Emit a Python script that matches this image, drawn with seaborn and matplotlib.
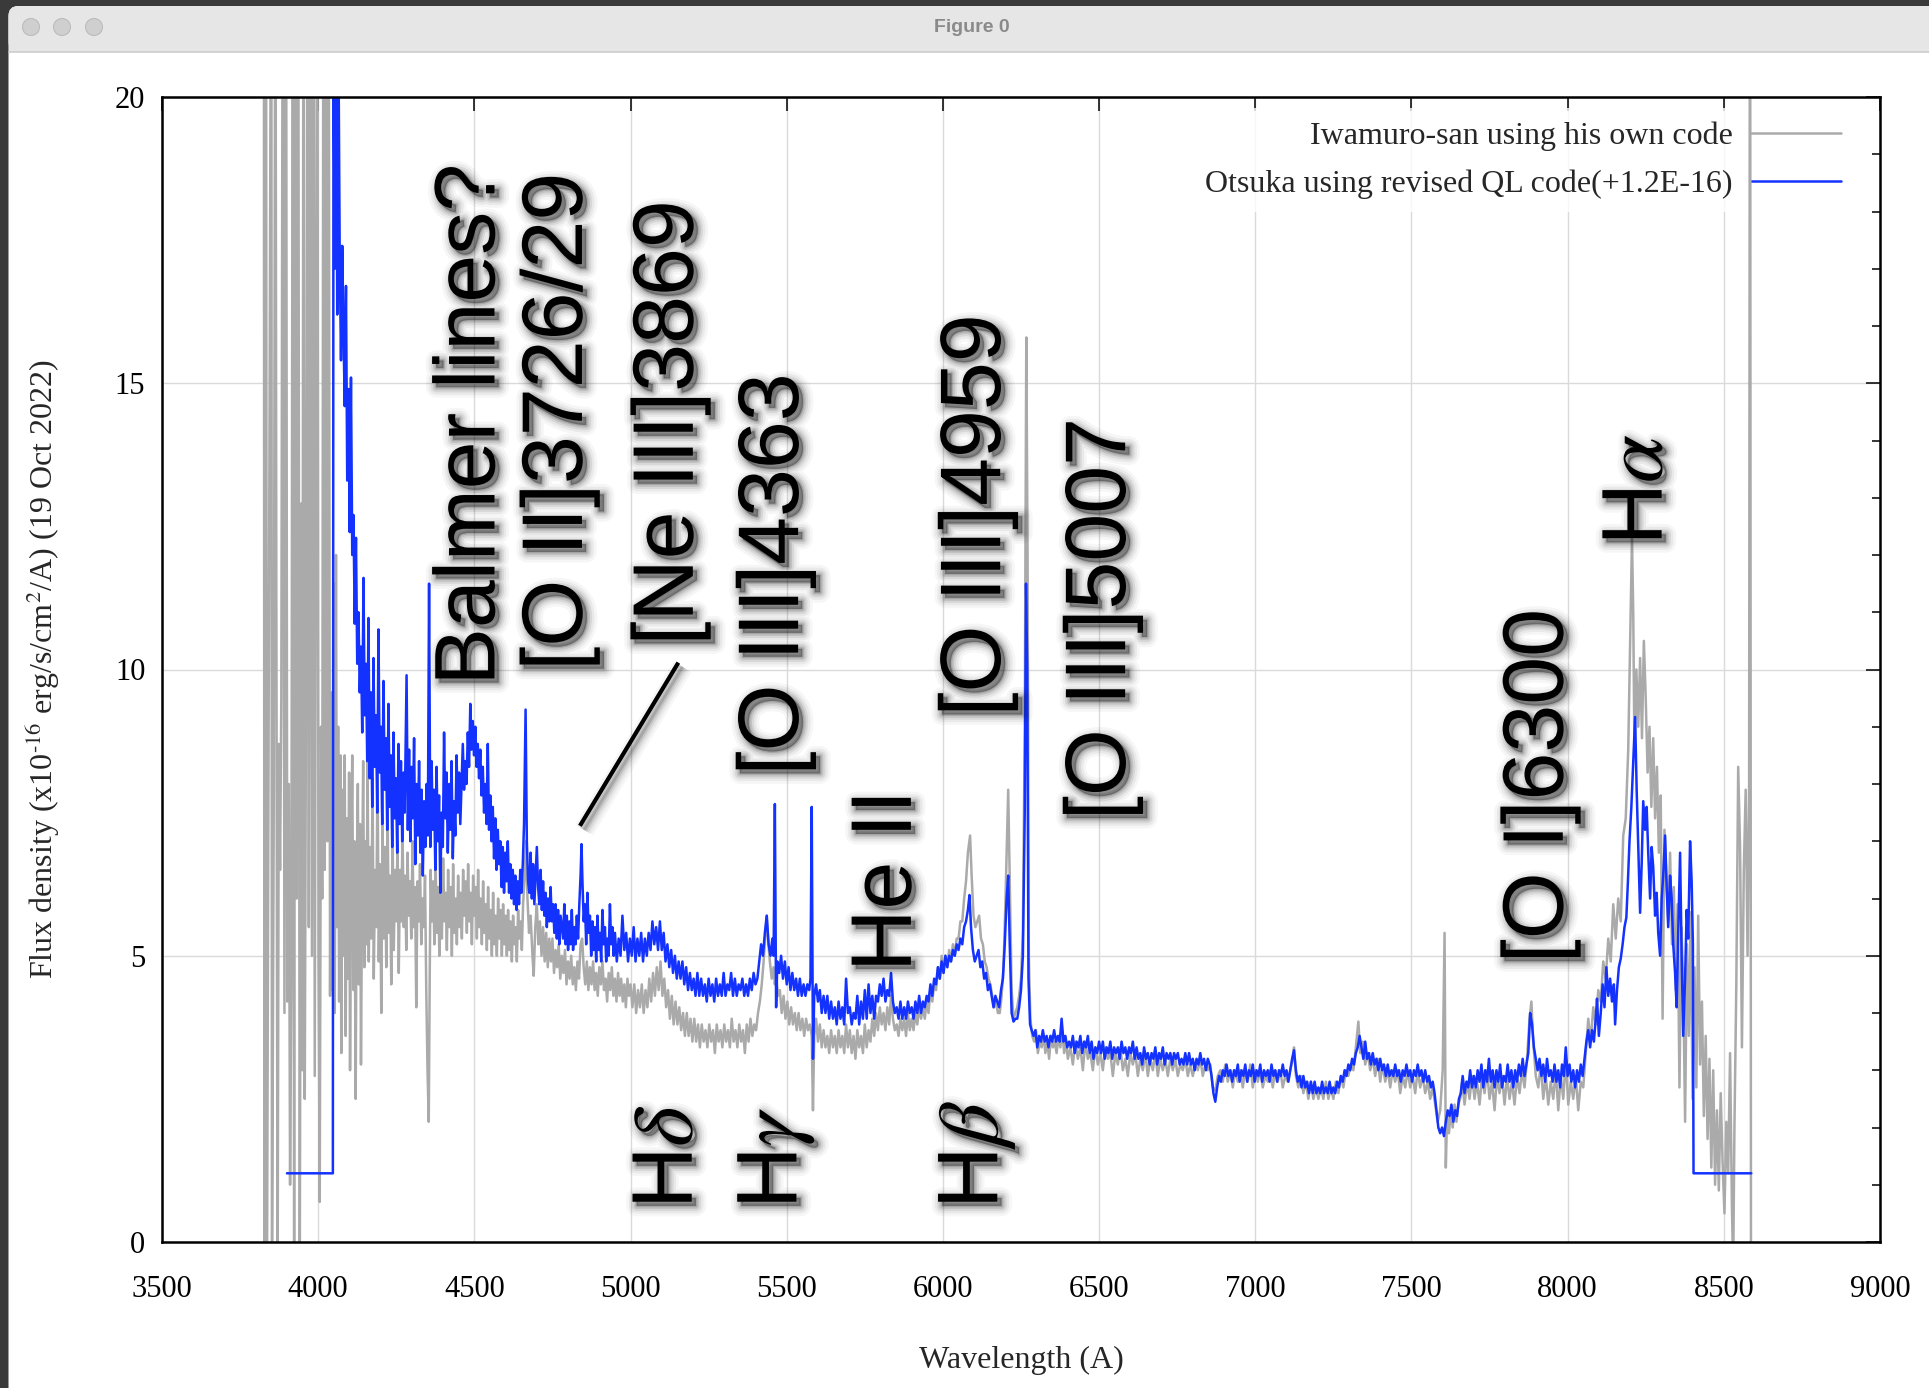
import matplotlib
matplotlib.use("Agg")
import matplotlib.pyplot as plt
import matplotlib.patheffects as pe
from matplotlib.patches import Rectangle, Circle, FancyBboxPatch
from matplotlib.ticker import MultipleLocator
import pandas as pd
import seaborn as sns

# ---------------------------------------------------------------------------
# Spectra: (wavelength [A], flux density [1e-16 erg/s/cm2/A])
# ---------------------------------------------------------------------------
iwamuro_spectrum = [
    (3826, 25), (3828, -1), (3833, 25), (3836, -1), (3850, 25), (3852, -1), (3858, 8.0), (3863, 25),
    (3866, 11.5), (3870, -1), (3874, 8.7), (3878, 6.5), (3882, 9.5), (3887, 25), (3892, 4.0), (3897, 25),
    (3901, 4.2), (3906, 8.0), (3910, 1.0), (3914, 4.5), (3919, 25), (3923, -1), (3927, 25), (3931, 6.0),
    (3936, 25), (3941, -1), (3946, 12.9), (3949, 3.0), (3953, 25), (3957, 2.5), (3962, 11.3), (3966, 25),
    (3970, 5.5), (3975, 25), (3980, 5.0), (3985, 25), (3989, 2.9), (3993, 14.0), (3997, 25), (4001, 5.0),
    (4005, 0.7), (4009, 9.0), (4013, 6.0), (4017, 25), (4021, 6.5), (4026, 25), (4030, 7.0), (4034, 22),
    (4038, 4.3), (4042, 9.6), (4046, 4.4), (4050, 11.5), (4053, 4.0), (4057, 12.0), (4060, 5.5), (4064, 9.0),
    (4067, 4.2), (4071, 8.5), (4074, 3.3), (4078, 7.9), (4081, 5.0), (4085, 8.5), (4088, 3.6), (4092, 7.4),
    (4095, 4.6), (4099, 8.2), (4102, 3.0), (4106, 6.8), (4109, 8.5), (4113, 4.4), (4116, 7.0), (4120, 2.5),
    (4123, 6.2), (4127, 8.0), (4130, 4.5), (4134, 7.3), (4137, 3.1), (4141, 6.5), (4144, 8.4), (4148, 4.8),
    (4151, 7.0), (4155, 5.2), (4158, 8.5), (4162, 4.9), (4166, 6.9), (4170, 5.3), (4174, 8.1), (4178, 4.6),
    (4182, 6.5), (4186, 5.5), (4190, 8.3), (4194, 4.9), (4198, 6.6), (4202, 4.0), (4206, 7.4), (4210, 5.3),
    (4214, 6.9), (4218, 4.8), (4222, 7.6), (4226, 5.4), (4230, 6.4), (4234, 4.5), (4238, 7.2), (4242, 5.1),
    (4246, 6.5), (4250, 5.6), (4254, 7.0), (4258, 4.7), (4262, 6.5), (4266, 5.6), (4270, 7.2), (4274, 5.5),
    (4278, 6.4), (4282, 5.1), (4286, 6.8), (4290, 5.7), (4294, 6.3), (4298, 5.3), (4302, 7.0), (4306, 5.5),
    (4310, 6.2), (4314, 4.1), (4318, 6.3), (4322, 5.6), (4326, 6.6), (4330, 5.2), (4334, 6.0), (4338, 5.5),
    (4342, 6.4), (4346, 4.4), (4350, 3.0), (4354, 2.1), (4357, 4.6), (4360, 6.5), (4364, 5.6), (4368, 6.3),
    (4372, 5.2), (4376, 6.6), (4380, 5.4), (4384, 6.2), (4388, 5.0), (4392, 6.4), (4396, 5.3), (4400, 6.7),
    (4404, 5.6), (4408, 6.1), (4412, 5.1), (4416, 6.5), (4420, 5.5), (4424, 6.2), (4428, 5.0), (4432, 6.6),
    (4436, 5.4), (4440, 6.0), (4444, 5.2), (4448, 6.4), (4452, 5.5), (4456, 6.1), (4460, 5.3), (4464, 6.5),
    (4468, 5.7), (4472, 6.3), (4476, 5.4), (4480, 6.6), (4484, 5.6), (4488, 6.1), (4492, 5.2), (4496, 6.4),
    (4500, 5.7), (4504, 6.2), (4508, 5.3), (4512, 6.5), (4516, 5.5), (4520, 6.0), (4524, 5.2), (4528, 6.3),
    (4532, 5.4), (4536, 5.9), (4540, 5.1), (4544, 6.2), (4548, 5.3), (4552, 5.8), (4556, 5.0), (4560, 6.1),
    (4564, 5.2), (4568, 5.7), (4572, 5.0), (4576, 6.0), (4580, 5.3), (4584, 5.8), (4588, 5.0), (4592, 5.9),
    (4596, 5.2), (4600, 5.7), (4604, 5.0), (4608, 5.8), (4612, 5.1), (4616, 5.6), (4620, 4.9), (4624, 5.7),
    (4628, 5.2), (4632, 5.5), (4636, 4.9), (4640, 5.8), (4644, 5.3), (4648, 5.6), (4652, 5.1), (4656, 5.9),
    (4660, 6.3), (4665, 7.0), (4670, 6.0), (4675, 5.4), (4680, 5.7), (4686, 5.0), (4690, 4.65), (4695, 5.5),
    (4700, 5.9), (4705, 5.2), (4710, 5.6), (4715, 5.0), (4720, 5.5), (4725, 4.9), (4730, 5.4), (4735, 4.8),
    (4740, 5.3), (4745, 4.9), (4750, 5.3), (4755, 4.7), (4760, 5.1), (4765, 4.8), (4770, 5.2), (4775, 4.6),
    (4780, 5.0), (4785, 4.7), (4790, 5.1), (4795, 4.5), (4800, 4.9), (4805, 4.6), (4810, 5.0), (4815, 4.5),
    (4820, 4.8), (4825, 4.4), (4830, 4.9), (4835, 4.6), (4840, 5.2), (4845, 5.3), (4850, 4.8), (4855, 4.5),
    (4860, 4.9), (4865, 4.4), (4870, 4.8), (4875, 4.5), (4880, 4.9), (4885, 4.4), (4890, 4.7), (4895, 4.3),
    (4900, 4.8), (4905, 4.5), (4910, 4.9), (4915, 4.4), (4920, 4.6), (4925, 4.2), (4930, 4.7), (4935, 4.4),
    (4940, 4.8), (4945, 4.3), (4950, 4.6), (4955, 4.2), (4960, 4.7), (4965, 4.3), (4970, 4.6), (4975, 4.2),
    (4980, 4.5), (4985, 4.1), (4990, 4.6), (4995, 4.3), (5000, 4.5), (5006, 4.1), (5012, 4.5), (5018, 4.0),
    (5024, 4.4), (5030, 4.1), (5036, 4.5), (5042, 4.0), (5048, 4.4), (5054, 4.1), (5060, 4.6), (5066, 4.2),
    (5072, 4.7), (5078, 4.3), (5084, 4.8), (5090, 4.4), (5096, 4.9), (5102, 4.3), (5108, 4.6), (5114, 4.1),
    (5120, 4.4), (5126, 3.9), (5132, 4.3), (5138, 3.8), (5144, 4.2), (5150, 3.8), (5156, 4.1), (5162, 3.7),
    (5168, 4.0), (5174, 3.6), (5180, 4.0), (5186, 3.6), (5192, 3.9), (5198, 3.5), (5204, 3.9), (5210, 3.5),
    (5216, 3.8), (5222, 3.4), (5228, 3.8), (5234, 3.5), (5240, 3.7), (5246, 3.4), (5252, 3.8), (5258, 3.5),
    (5264, 3.7), (5270, 3.3), (5276, 3.8), (5282, 3.5), (5288, 3.7), (5294, 3.4), (5300, 3.8), (5306, 3.5),
    (5312, 3.7), (5318, 3.4), (5324, 3.9), (5330, 3.5), (5336, 3.7), (5342, 3.4), (5348, 3.8), (5354, 3.5),
    (5360, 3.7), (5366, 3.3), (5372, 3.8), (5378, 3.5), (5384, 3.9), (5390, 3.6), (5396, 3.8), (5402, 3.7),
    (5408, 4.0), (5414, 4.2), (5420, 4.5), (5426, 4.9), (5432, 5.4), (5436, 5.7), (5440, 5.3), (5446, 4.9),
    (5452, 4.6), (5458, 4.8), (5462, 4.5), (5466, 4.7), (5472, 4.3), (5478, 4.4), (5484, 4.0), (5490, 4.3),
    (5496, 3.9), (5502, 4.2), (5508, 3.8), (5514, 4.1), (5520, 3.8), (5526, 4.0), (5532, 3.7), (5538, 4.0),
    (5544, 3.7), (5550, 3.9), (5556, 3.6), (5562, 3.9), (5568, 3.7), (5574, 3.8), (5580, 3.6), (5584, 2.3),
    (5588, 3.6), (5594, 3.9), (5600, 3.5), (5606, 3.8), (5612, 3.4), (5618, 3.7), (5624, 3.4), (5630, 3.6),
    (5636, 3.3), (5642, 3.7), (5648, 3.4), (5654, 3.6), (5660, 3.3), (5666, 3.7), (5672, 3.4), (5678, 3.6),
    (5684, 3.3), (5690, 3.8), (5696, 3.4), (5702, 3.7), (5708, 3.3), (5714, 3.6), (5720, 3.2), (5726, 3.7),
    (5732, 3.4), (5738, 3.6), (5744, 3.3), (5750, 3.8), (5756, 3.4), (5762, 3.7), (5768, 3.5), (5774, 3.9),
    (5780, 3.6), (5786, 4.0), (5792, 3.7), (5798, 4.1), (5804, 3.8), (5810, 4.0), (5816, 3.7), (5822, 4.1),
    (5828, 3.8), (5834, 4.3), (5840, 3.9), (5846, 3.7), (5852, 3.8), (5858, 3.6), (5864, 3.9), (5870, 3.7),
    (5876, 3.9), (5882, 3.6), (5888, 4.0), (5894, 3.7), (5900, 3.9), (5906, 3.7), (5912, 4.0), (5918, 3.8),
    (5924, 4.1), (5930, 3.9), (5936, 4.1), (5942, 3.9), (5948, 4.2), (5954, 4.0), (5960, 4.4), (5966, 4.2),
    (5972, 4.5), (5978, 4.4), (5984, 4.8), (5990, 4.6), (5996, 5.0), (6002, 4.7), (6008, 5.0), (6014, 4.8),
    (6020, 5.1), (6026, 4.9), (6032, 5.2), (6038, 5.0), (6044, 5.3), (6050, 5.3), (6056, 5.6), (6062, 5.6),
    (6068, 6.0), (6074, 6.3), (6080, 6.8), (6087, 7.1), (6092, 6.4), (6098, 5.7), (6104, 5.5), (6110, 5.6),
    (6116, 5.7), (6122, 5.3), (6128, 5.2), (6134, 4.9), (6140, 4.8), (6146, 4.6), (6152, 4.5), (6158, 4.3),
    (6164, 4.1), (6170, 4.2), (6176, 4.0), (6182, 4.0), (6188, 4.3), (6194, 4.8), (6200, 5.9), (6205, 7.0),
    (6209, 7.9), (6214, 6.3), (6220, 4.4), (6226, 3.9), (6232, 4.0), (6238, 4.1), (6244, 4.3), (6250, 4.6),
    (6256, 5.4), (6262, 9.0), (6267, 15.8), (6271, 12.0), (6275, 5.0), (6280, 3.9), (6286, 3.6), (6292, 3.5),
    (6298, 3.7), (6304, 3.3), (6310, 3.5), (6316, 3.4), (6322, 3.6), (6328, 3.3), (6334, 3.5), (6340, 3.2),
    (6346, 3.6), (6352, 3.4), (6358, 3.5), (6364, 3.3), (6370, 3.6), (6376, 3.4), (6382, 3.7), (6388, 3.3),
    (6394, 3.5), (6400, 3.2), (6408, 3.4), (6416, 3.1), (6424, 3.5), (6432, 3.2), (6440, 3.4), (6448, 3.0),
    (6456, 3.5), (6464, 3.2), (6472, 3.3), (6480, 3.0), (6488, 3.4), (6496, 3.1), (6504, 3.3), (6512, 3.0),
    (6520, 3.4), (6528, 3.2), (6536, 3.3), (6544, 2.9), (6552, 3.3), (6560, 3.1), (6568, 3.4), (6576, 3.0),
    (6584, 3.2), (6592, 2.9), (6600, 3.3), (6608, 3.1), (6616, 3.3), (6624, 2.9), (6632, 3.2), (6640, 3.0),
    (6648, 3.3), (6656, 2.9), (6664, 3.2), (6672, 3.0), (6680, 3.3), (6688, 2.9), (6696, 3.2), (6704, 3.0),
    (6712, 3.2), (6720, 2.9), (6728, 3.2), (6736, 3.0), (6744, 3.2), (6752, 2.9), (6760, 3.1), (6768, 3.0),
    (6776, 3.2), (6784, 2.9), (6792, 3.1), (6800, 2.9), (6808, 3.1), (6816, 3.0), (6824, 3.2), (6832, 2.9),
    (6840, 3.1), (6848, 3.0), (6856, 3.1), (6864, 2.7), (6872, 2.65), (6880, 2.9), (6888, 3.0), (6896, 2.8),
    (6904, 3.1), (6912, 2.8), (6920, 3.0), (6928, 2.7), (6936, 3.0), (6944, 2.8), (6952, 3.0), (6960, 2.7),
    (6968, 3.0), (6976, 2.8), (6984, 3.1), (6992, 2.7), (7000, 3.0), (7008, 2.8), (7016, 3.0), (7024, 2.7),
    (7032, 2.9), (7040, 2.8), (7048, 3.0), (7056, 2.7), (7064, 3.0), (7072, 2.8), (7080, 3.0), (7088, 2.7),
    (7096, 2.9), (7104, 2.8), (7112, 3.0), (7120, 3.2), (7124, 3.4), (7130, 2.9), (7138, 2.7), (7146, 2.9),
    (7154, 2.6), (7162, 2.8), (7170, 2.5), (7178, 2.8), (7186, 2.5), (7194, 2.7), (7202, 2.5), (7210, 2.7),
    (7218, 2.5), (7226, 2.8), (7234, 2.5), (7242, 2.7), (7250, 2.5), (7258, 2.8), (7266, 2.6), (7274, 2.9),
    (7282, 2.7), (7290, 3.0), (7298, 2.9), (7306, 3.1), (7314, 3.0), (7322, 3.4), (7330, 3.85), (7336, 3.3),
    (7344, 3.5), (7352, 3.1), (7360, 3.3), (7368, 3.0), (7376, 3.2), (7384, 2.9), (7392, 3.2), (7400, 2.8),
    (7408, 3.1), (7416, 2.8), (7424, 3.0), (7432, 2.7), (7440, 3.0), (7448, 2.8), (7456, 3.0), (7464, 2.6),
    (7472, 2.9), (7480, 2.7), (7488, 3.0), (7496, 2.7), (7504, 2.9), (7512, 2.6), (7520, 3.0), (7528, 2.7),
    (7536, 2.9), (7544, 2.6), (7552, 2.8), (7560, 2.5), (7568, 2.7), (7576, 2.4), (7584, 2.1), (7592, 2.3),
    (7600, 3.0), (7606, 5.4), (7610, 1.3), (7614, 2.2), (7620, 1.9), (7626, 2.3), (7632, 2.0), (7638, 2.4),
    (7644, 2.1), (7650, 2.4), (7656, 2.5), (7662, 2.8), (7670, 2.4), (7678, 2.8), (7686, 2.5), (7694, 2.9),
    (7702, 2.5), (7710, 2.8), (7718, 2.4), (7726, 2.9), (7734, 2.6), (7742, 3.0), (7750, 2.5), (7758, 2.8),
    (7766, 2.3), (7774, 2.9), (7782, 2.6), (7790, 2.9), (7798, 2.4), (7806, 2.9), (7814, 2.5), (7822, 2.8),
    (7830, 2.4), (7838, 2.9), (7846, 2.6), (7854, 3.0), (7862, 2.7), (7870, 3.2), (7878, 3.9), (7884, 4.2),
    (7890, 3.5), (7898, 2.9), (7906, 2.7), (7914, 3.1), (7922, 2.5), (7930, 2.9), (7938, 2.4), (7946, 2.8),
    (7954, 2.5), (7962, 3.0), (7970, 2.3), (7978, 2.9), (7986, 2.5), (7994, 3.2), (8002, 2.4), (8010, 2.8),
    (8018, 2.5), (8026, 2.9), (8034, 2.3), (8042, 2.8), (8050, 2.7), (8058, 3.3), (8066, 3.9), (8074, 3.5),
    (8082, 4.1), (8090, 3.8), (8098, 4.4), (8106, 4.2), (8114, 4.9), (8122, 4.6), (8130, 5.3), (8138, 4.9),
    (8146, 5.9), (8154, 5.3), (8162, 6.0), (8170, 5.6), (8178, 7.1), (8186, 7.4), (8194, 8.6), (8200, 10.5),
    (8206, 12.3), (8210, 11.0), (8214, 8.5), (8220, 10.0), (8226, 9.0), (8232, 10.2), (8238, 8.8), (8244, 10.5),
    (8250, 9.5), (8256, 8.2), (8262, 9.0), (8268, 7.6), (8274, 8.8), (8280, 7.4), (8286, 8.3), (8292, 6.8),
    (8298, 7.8), (8304, 3.9), (8310, 7.2), (8316, 6.4), (8322, 5.6), (8328, 6.8), (8334, 5.2), (8340, 6.2),
    (8346, 4.4), (8352, 5.9), (8358, 2.7), (8364, 5.5), (8370, 4.6), (8376, 2.1), (8382, 5.2), (8388, 3.6),
    (8394, 5.76), (8400, 2.5), (8406, 4.8), (8412, 2.7), (8418, 5.7), (8424, 3.1), (8430, 4.2), (8436, 2.2),
    (8442, 3.6), (8448, 1.8), (8454, 3.2), (8460, 1.3), (8466, 3.0), (8472, 1.0), (8478, 2.3), (8484, 0.9),
    (8490, 2.6), (8496, 1.4), (8502, 0.5), (8508, 2.1), (8514, 1.2), (8520, 3.3), (8526, 0.6), (8530, -0.5),
    (8534, 2.0), (8540, 4.5), (8546, 8.3), (8552, 6.9), (8558, 3.4), (8564, 6.5), (8570, 7.9), (8576, 5.0),
    (8581, 8.0), (8584, 26), (8587, -1),
]

otsuka_spectrum = [
    (3900, 1.2), (4047, 1.2), (4049, 21.5), (4053, 17.0), (4057, 22.5), (4061, 16.2), (4065, 20.8), (4069, 17.2),
    (4073, 15.4), (4077, 17.4), (4081, 15.9), (4085, 14.6), (4089, 16.7), (4093, 13.3), (4097, 14.9), (4101, 12.4),
    (4105, 15.1), (4109, 12.0), (4113, 12.7), (4117, 10.8), (4121, 12.3), (4125, 10.1), (4129, 11.0), (4133, 9.6),
    (4137, 10.4), (4141, 8.9), (4145, 11.6), (4149, 9.2), (4153, 10.1), (4157, 8.4), (4161, 10.9), (4165, 8.1),
    (4169, 9.6), (4173, 7.6), (4177, 10.2), (4181, 8.3), (4185, 9.2), (4189, 7.5), (4193, 10.7), (4197, 8.2),
    (4201, 9.0), (4205, 7.3), (4209, 9.8), (4213, 7.9), (4217, 8.8), (4221, 7.2), (4225, 9.4), (4229, 7.6),
    (4233, 8.5), (4237, 6.9), (4241, 8.9), (4245, 7.4), (4249, 8.1), (4253, 6.8), (4257, 8.7), (4261, 7.3),
    (4265, 8.4), (4269, 7.0), (4273, 8.2), (4277, 7.5), (4283, 9.9), (4287, 7.2), (4291, 8.6), (4295, 7.0),
    (4299, 8.3), (4303, 7.4), (4307, 8.8), (4311, 6.6), (4315, 8.0), (4319, 7.1), (4323, 8.4), (4327, 6.8),
    (4331, 7.9), (4335, 6.4), (4339, 7.7), (4343, 6.9), (4347, 8.0), (4351, 7.1), (4355, 11.5), (4359, 6.9),
    (4363, 8.4), (4367, 7.2), (4371, 7.9), (4375, 6.5), (4379, 8.3), (4383, 7.0), (4387, 7.8), (4391, 6.1),
    (4395, 7.5), (4399, 6.9), (4403, 8.9), (4407, 7.4), (4411, 8.2), (4415, 6.8), (4419, 8.0), (4423, 7.2),
    (4427, 8.4), (4431, 6.7), (4435, 7.7), (4439, 7.1), (4443, 8.5), (4447, 7.5), (4451, 8.2), (4455, 7.3),
    (4459, 8.0), (4463, 8.7), (4467, 7.9), (4471, 8.4), (4475, 8.0), (4479, 8.9), (4483, 8.3), (4487, 9.4),
    (4491, 8.6), (4495, 9.1), (4499, 8.5), (4503, 9.0), (4507, 8.3), (4511, 8.7), (4515, 8.1), (4519, 8.6),
    (4523, 7.8), (4527, 8.3), (4531, 7.5), (4535, 8.0), (4539, 7.3), (4543, 8.7), (4547, 7.2), (4551, 7.8),
    (4555, 7.0), (4559, 7.6), (4563, 6.7), (4567, 7.4), (4571, 6.5), (4575, 7.2), (4579, 6.6), (4583, 7.0),
    (4587, 6.2), (4591, 6.9), (4595, 6.1), (4599, 6.8), (4603, 6.3), (4607, 7.0), (4611, 6.1), (4615, 6.6),
    (4619, 6.0), (4623, 6.5), (4627, 5.9), (4631, 6.4), (4635, 5.8), (4639, 6.3), (4643, 5.9), (4647, 6.5),
    (4651, 6.1), (4655, 6.6), (4659, 7.3), (4664, 9.3), (4668, 7.0), (4672, 6.3), (4676, 6.1), (4680, 6.8),
    (4684, 6.0), (4688, 6.6), (4692, 5.9), (4696, 6.4), (4700, 6.9), (4704, 6.2), (4708, 5.9), (4712, 6.5),
    (4716, 5.8), (4720, 6.3), (4724, 5.7), (4728, 6.1), (4732, 5.5), (4736, 6.0), (4740, 5.6), (4744, 6.2),
    (4748, 5.6), (4752, 5.9), (4756, 5.4), (4760, 5.9), (4764, 5.3), (4768, 5.8), (4772, 5.2), (4776, 5.7),
    (4780, 5.5), (4784, 5.3), (4788, 5.9), (4792, 5.2), (4796, 5.7), (4800, 5.1), (4804, 5.6), (4808, 5.2),
    (4812, 5.8), (4816, 5.1), (4820, 5.5), (4824, 5.2), (4828, 5.7), (4832, 5.3), (4836, 5.9), (4840, 6.4),
    (4843, 6.95), (4846, 6.3), (4850, 5.6), (4854, 5.9), (4858, 5.2), (4862, 6.1), (4866, 5.4), (4870, 5.7),
    (4874, 5.0), (4878, 5.6), (4882, 5.1), (4886, 5.5), (4890, 4.9), (4894, 5.7), (4898, 5.1), (4902, 5.4),
    (4906, 4.9), (4910, 5.8), (4914, 5.2), (4918, 5.5), (4922, 4.9), (4926, 5.3), (4930, 5.0), (4934, 5.9),
    (4938, 5.2), (4942, 5.5), (4946, 5.0), (4950, 5.4), (4956, 4.9), (4962, 5.3), (4968, 5.0), (4974, 5.7),
    (4980, 5.1), (4986, 5.4), (4992, 4.9), (4998, 5.3), (5004, 5.0), (5010, 5.5), (5016, 4.9), (5022, 5.3),
    (5028, 5.0), (5034, 5.4), (5040, 4.9), (5046, 5.3), (5052, 5.0), (5058, 5.4), (5064, 5.1), (5070, 5.6),
    (5076, 5.2), (5082, 5.5), (5088, 5.1), (5094, 5.6), (5100, 5.1), (5106, 5.4), (5112, 4.9), (5118, 5.2),
    (5124, 4.8), (5130, 5.1), (5136, 4.7), (5142, 5.0), (5148, 4.6), (5154, 4.9), (5160, 4.6), (5166, 4.9),
    (5172, 4.5), (5178, 4.8), (5184, 4.4), (5190, 4.7), (5196, 4.4), (5202, 4.6), (5208, 4.3), (5214, 4.7),
    (5220, 4.3), (5226, 4.6), (5232, 4.3), (5238, 4.5), (5244, 4.2), (5250, 4.6), (5256, 4.3), (5262, 4.5),
    (5268, 4.2), (5274, 4.6), (5280, 4.3), (5286, 4.5), (5292, 4.3), (5298, 4.7), (5304, 4.3), (5310, 4.5),
    (5316, 4.4), (5322, 4.7), (5328, 4.3), (5334, 4.6), (5340, 4.3), (5346, 4.5), (5352, 4.4), (5358, 4.6),
    (5364, 4.3), (5370, 4.5), (5376, 4.3), (5382, 4.6), (5388, 4.4), (5394, 4.7), (5400, 4.5), (5406, 4.6),
    (5412, 4.9), (5418, 5.2), (5424, 5.0), (5430, 5.4), (5436, 5.7), (5442, 5.2), (5448, 5.0), (5454, 5.3),
    (5458, 5.0), (5462, 7.65), (5466, 4.1), (5470, 4.9), (5476, 4.7), (5482, 5.0), (5488, 4.6), (5494, 4.9),
    (5500, 4.5), (5506, 4.8), (5512, 4.4), (5518, 4.7), (5524, 4.4), (5530, 4.6), (5536, 4.3), (5542, 4.6),
    (5548, 4.3), (5554, 4.5), (5560, 4.3), (5566, 4.5), (5572, 4.4), (5576, 4.6), (5580, 7.6), (5584, 3.2),
    (5588, 4.3), (5594, 4.5), (5600, 4.2), (5606, 4.4), (5612, 4.0), (5618, 4.3), (5624, 4.0), (5630, 4.3),
    (5636, 3.9), (5642, 4.2), (5648, 3.9), (5654, 4.1), (5660, 3.8), (5666, 4.2), (5672, 3.9), (5678, 4.1),
    (5684, 3.8), (5690, 4.6), (5696, 4.0), (5702, 4.1), (5708, 3.8), (5714, 4.0), (5720, 3.9), (5726, 4.3),
    (5732, 3.8), (5738, 4.2), (5744, 3.9), (5750, 4.4), (5756, 3.9), (5762, 4.5), (5768, 4.0), (5774, 4.3),
    (5780, 3.9), (5786, 4.3), (5792, 4.2), (5798, 4.5), (5804, 4.3), (5810, 4.6), (5816, 4.2), (5822, 4.4),
    (5828, 4.3), (5834, 4.7), (5840, 4.2), (5846, 4.0), (5852, 4.1), (5858, 3.9), (5864, 4.2), (5870, 3.9),
    (5876, 4.1), (5882, 3.9), (5888, 4.2), (5894, 4.0), (5900, 4.1), (5906, 3.9), (5912, 4.2), (5918, 4.0),
    (5924, 4.3), (5930, 4.0), (5936, 4.2), (5942, 4.1), (5948, 4.3), (5954, 4.2), (5960, 4.5), (5966, 4.3),
    (5972, 4.6), (5978, 4.5), (5984, 4.8), (5990, 4.6), (5996, 4.9), (6002, 4.7), (6008, 5.0), (6014, 4.8),
    (6020, 5.0), (6026, 4.9), (6032, 5.1), (6038, 5.0), (6044, 5.2), (6050, 5.1), (6056, 5.3), (6062, 5.2),
    (6068, 5.5), (6074, 5.6), (6080, 5.8), (6085, 6.06), (6090, 5.5), (6096, 5.1), (6102, 4.9), (6108, 5.0),
    (6114, 5.1), (6120, 4.8), (6126, 4.9), (6132, 4.6), (6138, 4.7), (6144, 4.4), (6150, 4.5), (6156, 4.3),
    (6162, 4.1), (6168, 4.3), (6174, 4.2), (6180, 4.1), (6186, 4.4), (6192, 4.6), (6198, 5.2), (6204, 6.0),
    (6209, 6.4), (6214, 5.2), (6220, 4.0), (6226, 3.85), (6232, 3.9), (6238, 3.9), (6244, 4.1), (6250, 4.4),
    (6256, 5.0), (6262, 7.5), (6266, 11.5), (6270, 10.0), (6274, 4.6), (6279, 3.8), (6284, 3.7), (6290, 3.6),
    (6296, 3.7), (6302, 3.4), (6308, 3.6), (6314, 3.5), (6320, 3.7), (6326, 3.5), (6332, 3.6), (6338, 3.4),
    (6344, 3.6), (6350, 3.5), (6356, 3.7), (6362, 3.5), (6368, 3.6), (6374, 3.5), (6380, 3.9), (6386, 3.5),
    (6392, 3.6), (6398, 3.4), (6404, 3.5), (6410, 3.4), (6416, 3.6), (6422, 3.3), (6428, 3.5), (6434, 3.4),
    (6440, 3.6), (6446, 3.3), (6452, 3.5), (6458, 3.4), (6464, 3.6), (6470, 3.3), (6476, 3.5), (6482, 3.2),
    (6488, 3.4), (6494, 3.3), (6500, 3.5), (6506, 3.3), (6512, 3.5), (6518, 3.2), (6524, 3.4), (6530, 3.3),
    (6536, 3.5), (6542, 3.2), (6548, 3.4), (6554, 3.3), (6560, 3.4), (6566, 3.2), (6572, 3.5), (6578, 3.3),
    (6584, 3.4), (6590, 3.2), (6596, 3.4), (6602, 3.3), (6608, 3.5), (6614, 3.2), (6620, 3.4), (6626, 3.2),
    (6632, 3.3), (6638, 3.1), (6644, 3.4), (6650, 3.2), (6656, 3.3), (6662, 3.1), (6668, 3.3), (6674, 3.2),
    (6680, 3.4), (6686, 3.1), (6692, 3.3), (6698, 3.2), (6704, 3.4), (6710, 3.1), (6716, 3.3), (6722, 3.2),
    (6728, 3.3), (6734, 3.1), (6740, 3.3), (6746, 3.2), (6752, 3.3), (6758, 3.1), (6764, 3.2), (6770, 3.1),
    (6776, 3.3), (6782, 3.1), (6788, 3.3), (6794, 3.1), (6800, 3.2), (6806, 3.0), (6812, 3.2), (6818, 3.1),
    (6824, 3.3), (6830, 3.1), (6836, 3.2), (6842, 3.0), (6848, 3.2), (6854, 3.1), (6860, 2.9), (6866, 2.6),
    (6872, 2.45), (6878, 2.7), (6884, 2.9), (6890, 2.8), (6896, 3.0), (6902, 2.9), (6908, 3.1), (6914, 2.9),
    (6920, 3.0), (6926, 2.8), (6932, 3.0), (6938, 2.9), (6944, 3.1), (6950, 2.8), (6956, 3.0), (6962, 2.9),
    (6968, 3.1), (6974, 2.8), (6980, 3.0), (6986, 2.9), (6992, 3.1), (6998, 2.8), (7004, 3.0), (7010, 2.9),
    (7016, 3.1), (7022, 2.8), (7028, 3.0), (7034, 2.9), (7040, 3.0), (7046, 2.8), (7052, 3.1), (7058, 2.9),
    (7064, 3.0), (7070, 2.8), (7076, 3.0), (7082, 2.9), (7088, 3.1), (7094, 2.9), (7100, 3.0), (7106, 2.8),
    (7112, 3.0), (7118, 3.2), (7124, 3.35), (7130, 3.0), (7136, 2.8), (7142, 2.9), (7148, 2.7), (7154, 2.9),
    (7160, 2.7), (7166, 2.8), (7172, 2.6), (7178, 2.8), (7184, 2.6), (7190, 2.8), (7196, 2.6), (7202, 2.7),
    (7208, 2.6), (7214, 2.8), (7220, 2.6), (7226, 2.7), (7232, 2.6), (7238, 2.8), (7244, 2.6), (7250, 2.7),
    (7256, 2.6), (7262, 2.8), (7268, 2.7), (7274, 2.9), (7280, 2.8), (7286, 3.0), (7292, 2.9), (7298, 3.1),
    (7304, 3.0), (7310, 3.2), (7316, 3.1), (7322, 3.3), (7328, 3.4), (7334, 3.6), (7340, 3.4), (7346, 3.2),
    (7352, 3.5), (7358, 3.2), (7364, 3.3), (7370, 3.1), (7376, 3.3), (7382, 3.1), (7388, 3.2), (7394, 3.0),
    (7400, 3.2), (7406, 3.0), (7412, 3.1), (7418, 2.9), (7424, 3.1), (7430, 2.9), (7436, 3.0), (7442, 2.9),
    (7448, 3.1), (7454, 2.9), (7460, 3.0), (7466, 2.8), (7472, 3.0), (7478, 2.9), (7484, 3.1), (7490, 2.9),
    (7496, 3.0), (7502, 2.8), (7508, 3.0), (7514, 2.9), (7520, 3.1), (7526, 2.9), (7532, 3.0), (7538, 2.8),
    (7544, 3.0), (7550, 2.8), (7556, 2.9), (7562, 2.7), (7568, 2.8), (7574, 2.6), (7580, 2.3), (7586, 2.0),
    (7592, 1.9), (7598, 2.0), (7604, 1.85), (7610, 2.1), (7616, 2.3), (7622, 2.2), (7628, 2.4), (7634, 2.1),
    (7640, 2.3), (7646, 2.2), (7652, 2.5), (7658, 2.6), (7664, 2.9), (7670, 2.6), (7676, 2.8), (7682, 2.7),
    (7688, 3.0), (7694, 2.7), (7700, 2.9), (7706, 2.7), (7712, 3.0), (7718, 2.8), (7724, 3.1), (7730, 2.7),
    (7736, 3.0), (7742, 2.8), (7748, 3.2), (7754, 2.8), (7760, 3.0), (7766, 2.7), (7772, 3.0), (7778, 2.8),
    (7784, 3.1), (7790, 2.7), (7796, 2.9), (7802, 2.8), (7808, 3.1), (7814, 2.8), (7820, 3.0), (7826, 2.7),
    (7832, 3.0), (7838, 2.8), (7844, 3.1), (7850, 2.9), (7856, 3.2), (7862, 2.9), (7868, 3.1), (7874, 3.3),
    (7880, 4.0), (7886, 3.8), (7892, 3.4), (7898, 3.2), (7904, 3.0), (7910, 3.2), (7916, 2.9), (7922, 3.1),
    (7928, 2.8), (7934, 3.2), (7940, 2.9), (7946, 3.0), (7952, 2.8), (7958, 3.1), (7964, 2.8), (7970, 3.0),
    (7976, 2.7), (7982, 3.1), (7988, 2.9), (7994, 3.4), (8000, 2.9), (8006, 3.1), (8012, 2.8), (8018, 3.0),
    (8024, 2.7), (8030, 3.0), (8036, 2.8), (8042, 3.1), (8048, 2.9), (8054, 3.2), (8060, 3.5), (8066, 3.7),
    (8072, 3.4), (8078, 3.7), (8084, 3.5), (8090, 3.9), (8094, 4.25), (8100, 3.6), (8106, 4.0), (8112, 4.5),
    (8118, 4.1), (8124, 4.8), (8130, 4.3), (8136, 4.6), (8142, 4.2), (8148, 4.5), (8152, 3.8), (8158, 4.4),
    (8164, 4.8), (8170, 4.95), (8176, 5.2), (8182, 5.5), (8188, 5.67), (8193, 6.3), (8198, 7.0), (8204, 7.6),
    (8210, 8.4), (8216, 9.17), (8221, 7.9), (8226, 6.9), (8232, 5.75), (8237, 6.6), (8242, 7.7), (8248, 7.2),
    (8253, 7.6), (8258, 6.8), (8264, 6.0), (8269, 6.9), (8274, 6.55), (8280, 5.7), (8285, 6.1), (8290, 5.4),
    (8296, 5.0), (8301, 6.0), (8306, 6.4), (8312, 7.1), (8317, 6.2), (8322, 5.5), (8328, 6.4), (8333, 6.0),
    (8338, 5.2), (8344, 4.7), (8349, 4.1), (8354, 5.4), (8360, 6.8), (8365, 5.0), (8370, 3.6), (8376, 4.6),
    (8381, 5.8), (8386, 5.3), (8392, 7.0), (8397, 6.3), (8401, 5.2), (8403, 1.2), (8588, 1.2),
]

series_names = ["Iwamuro-san using his own code", "Otsuka using revised QL code(+1.2E-16)"]
series_colors = ["#aaaaaa", "#1432ff"]

x_ticks = [3500, 4000, 4500, 5000, 5500, 6000, 6500, 7000, 7500, 8000, 8500, 9000]
y_ticks = [0, 5, 10, 15, 20]

# Emission-line identifications (rotated labels, anchored at their lower end)
line_labels = ["Balmer lines?", "[O II]3726/29", "[Ne III]3869", "[O III]4363", "He II",
               "[O III]4959", "[O III]5007", "[O I]6300", r"H$\alpha$",
               r"H$\delta$", r"H$\gamma$", r"H$\beta$"]
line_label_x = [4494, 4774, 5129, 5466, 5827, 6113, 6513, 7914, 8231, 5126, 5466, 6109]
line_label_y = [9.72, 9.98, 10.42, 8.15, 4.72, 9.18, 7.37, 4.87, 12.17, 0.58, 0.58, 0.58]

# Leader from the [Ne III] label down to its feature
leader_x = [5153, 4838]
leader_y = [10.12, 7.27]

# ---------------------------------------------------------------------------
W, H = 1929, 1388
sns.set_theme(style="white")
plt.rcParams["font.family"] = ["Liberation Serif", "DejaVu Serif"]
plt.rcParams["mathtext.fontset"] = "stix"

fig = plt.figure(figsize=(W / 100, H / 100), dpi=100, facecolor="#3a3a3a")

# Window frame drawn in pixel coordinates
bg = fig.add_axes([0, 0, 1, 1])
bg.set_xlim(0, W)
bg.set_ylim(H, 0)
bg.axis("off")
bg.add_patch(FancyBboxPatch((8.5, 6), W + 40, H + 40,
                            boxstyle="round,pad=0,rounding_size=10",
                            fc="white", ec="none"))
bg.add_patch(FancyBboxPatch((8.5, 6), W + 40, 46,
                            boxstyle="round,pad=0,rounding_size=10",
                            fc="#e6e6e6", ec="none"))
bg.add_patch(Rectangle((8.5, 30), W + 40, 22, fc="#e6e6e6", ec="none"))
bg.plot([8.5, W], [52, 52], color="#cdcdcd", lw=1.2)
for cx in (31, 62, 94):
    bg.add_patch(Circle((cx, 27), 8.5, fc="#cfcfcf", ec="#bcbcbc", lw=0.8))
bg.text(972, 27, "Figure 0", ha="center", va="center", fontsize=14,
        color="#8a8a8a", fontfamily="Liberation Sans", fontweight="bold")

# Plot area
ax = fig.add_axes([162 / W, (H - 1242) / H, 1718 / W, 1145 / H])
ax.set_facecolor("white")

iwamuro = pd.DataFrame(iwamuro_spectrum, columns=["wavelength", "flux"])
otsuka = pd.DataFrame(otsuka_spectrum, columns=["wavelength", "flux"])

sns.lineplot(data=iwamuro, x="wavelength", y="flux", color=series_colors[0],
             lw=1.8, sort=False, estimator=None, ax=ax, label=series_names[0])
sns.lineplot(data=otsuka, x="wavelength", y="flux", color=series_colors[1],
             lw=1.8, sort=False, estimator=None, ax=ax, label=series_names[1])

ax.set_xlim(3500, 9000)
ax.set_ylim(0, 20)
ax.set_xticks(x_ticks)
ax.set_yticks(y_ticks)
ax.yaxis.set_minor_locator(MultipleLocator(1))
ax.set_axisbelow(True)
ax.grid(True, which="major", color="#dadada", lw=1.0)
for s in ax.spines.values():
    s.set_color("black")
    s.set_linewidth(1.8)
ax.tick_params(which="both", direction="in", top=True, right=True,
               colors="black", labelsize=22, width=1.1)
ax.tick_params(which="major", length=10)
ax.tick_params(which="minor", length=6)
ax.tick_params(axis="x", pad=24)
ax.tick_params(axis="y", pad=12)

ax.set_xlabel("Wavelength (A)", fontsize=23)
ax.set_ylabel(r"Flux density (x10$^{\text{-16}}$ erg/s/cm$^{2}$/A) (19 Oct 2022)", fontsize=23)
ax.xaxis.set_label_coords(0.5, -0.091)
ax.yaxis.set_label_coords(-0.058, 0.5)

leg = ax.legend(loc="upper right", bbox_to_anchor=(0.985, 0.99), borderaxespad=0,
                markerfirst=False, fontsize=23, handlelength=2.85, handletextpad=0.55,
                labelspacing=0.6, borderpad=0.4, frameon=True, fancybox=False)
leg.get_frame().set_facecolor("white")
leg.get_frame().set_edgecolor("none")
leg.set_zorder(1)
for h in leg.get_lines():
    h.set_linewidth(1.8)


def soft_shadow():
    fx = []
    for lw, a in [(15, 0.035), (11, 0.05), (7.5, 0.075), (4.5, 0.1), (2, 0.14)]:
        fx.append(pe.Stroke(offset=(3, -3), linewidth=lw, foreground="black", alpha=a))
    fx.append(pe.Normal())
    return fx


for label, lx, ly in zip(line_labels, line_label_x, line_label_y):
    ax.text(lx, ly, label, rotation=90, ha="center", va="bottom", fontsize=62,
            fontfamily="Liberation Sans", color="black", zorder=5,
            path_effects=soft_shadow())

ax.plot(leader_x, leader_y, color="black", lw=3, solid_capstyle="butt", zorder=5,
        path_effects=soft_shadow())

fig.savefig("out.png", dpi=100, facecolor=fig.get_facecolor())
